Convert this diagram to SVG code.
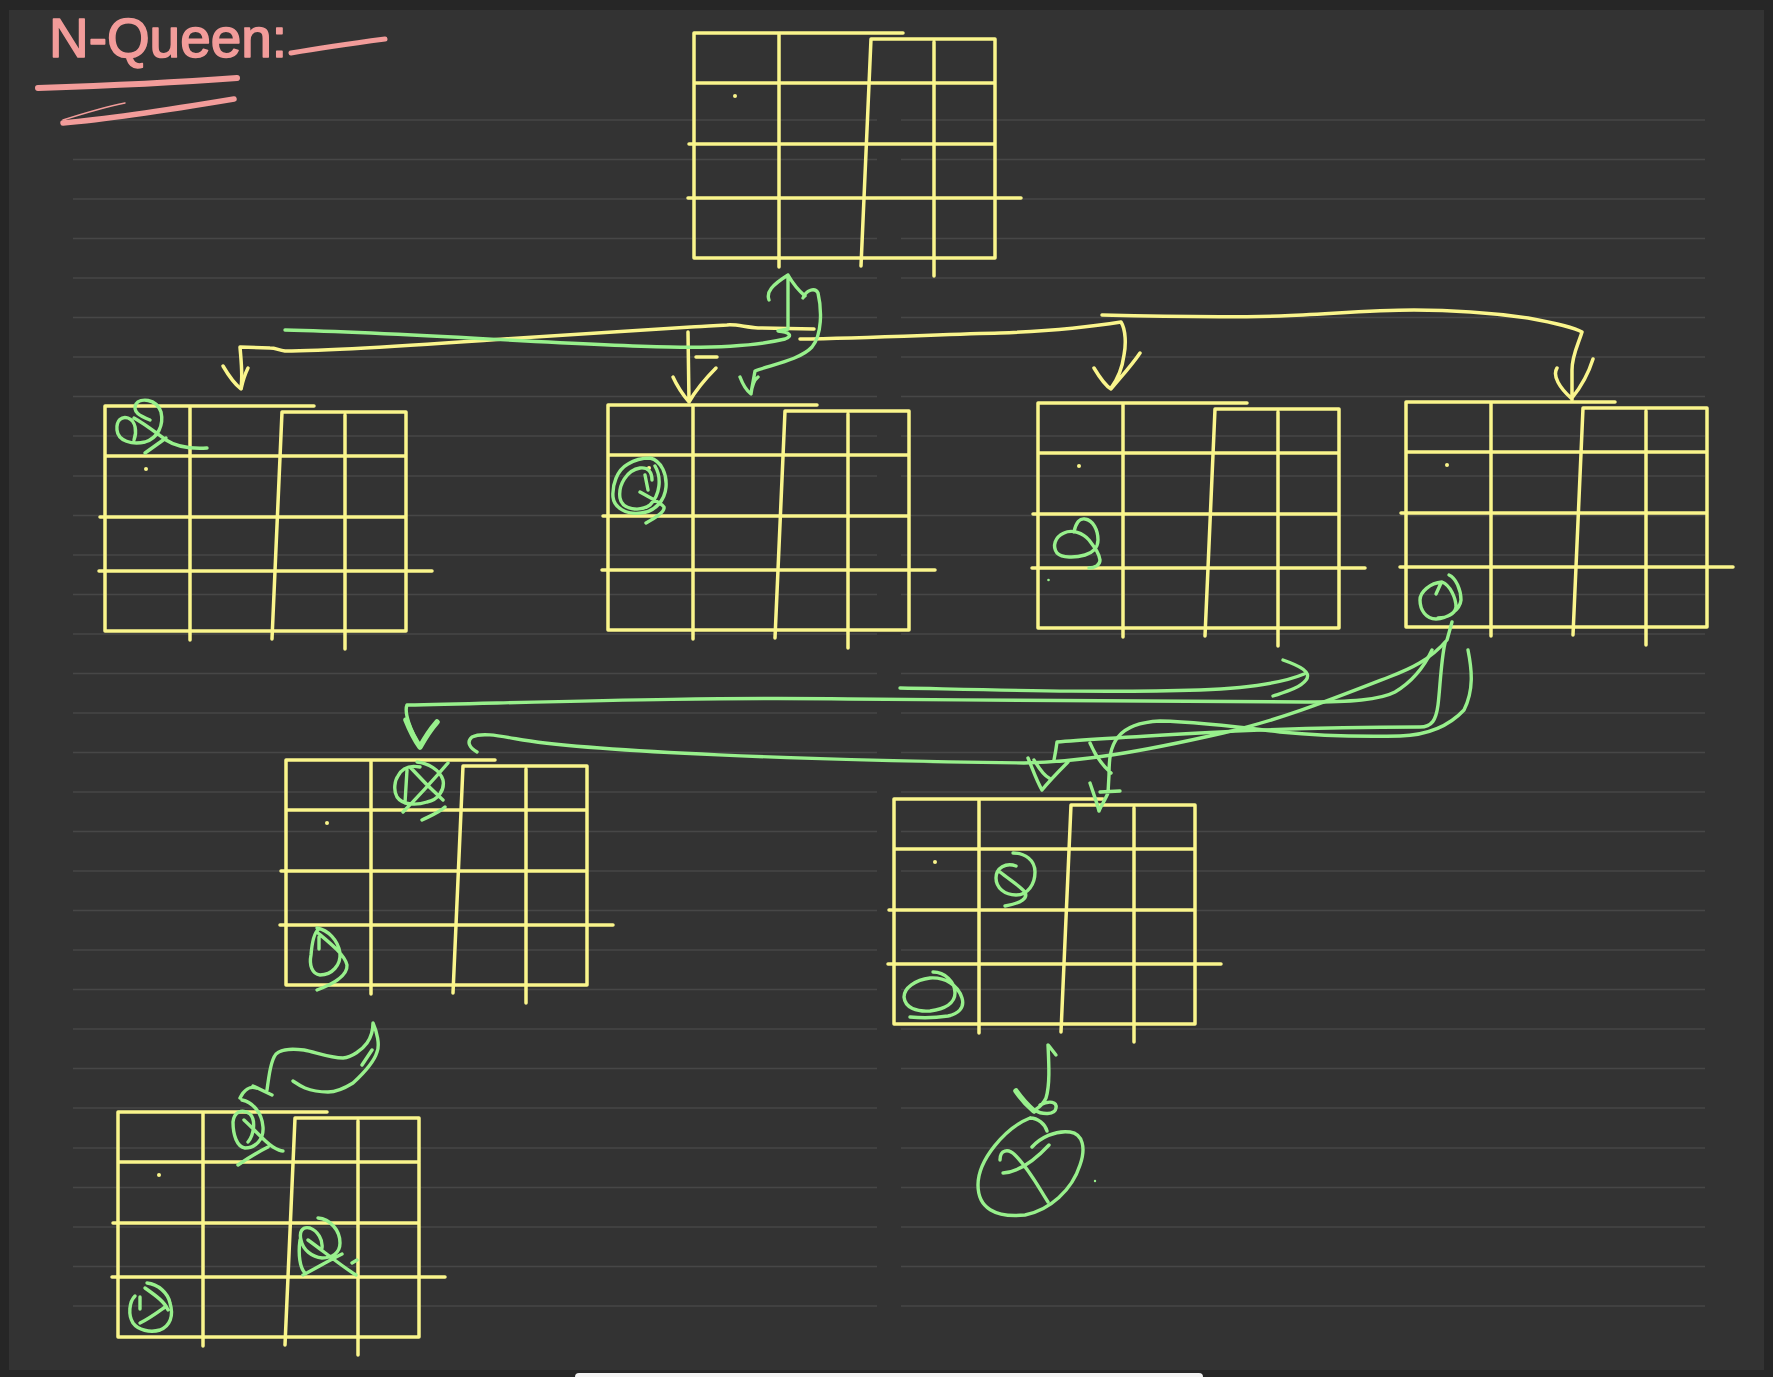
<svg xmlns="http://www.w3.org/2000/svg" xmlns:xlink="http://www.w3.org/1999/xlink" width="1773" height="1377" viewBox="0 0 1773 1377">
<style>
.frame{fill:#262626}
.bg{fill:#333333}
.rule{fill:none;stroke:#474747;stroke-width:1.5}
.grid{fill:none;stroke:#FAF58C;stroke-width:3.5;stroke-linecap:round;stroke-linejoin:round}
.dot{fill:#FAF58C}
.y{fill:none;stroke:#FAF58C;stroke-width:3.5;stroke-linecap:round;stroke-linejoin:round}
.g{fill:none;stroke:#98F08C;stroke-width:3.4;stroke-linecap:round;stroke-linejoin:round}
.gt{fill:none;stroke:#98F08C;stroke-width:5.5;stroke-linecap:round;stroke-linejoin:round}
.p{fill:none;stroke:#F29C9A;stroke-linecap:round;stroke-linejoin:round}
.title{fill:#F29C9A;stroke:#F29C9A;stroke-width:1.6;stroke-linejoin:round;font-family:"Liberation Sans","DejaVu Sans",sans-serif;font-size:56px}
</style>
<defs>
<g id="grid">
<path class="grid" d="M0,0 H209 M177,6 H301 V225 M0,0 V225 H301 M85,2 V234 M177,6 L167,233 M240,9 V243 M0,50 H301 M-5,111 H301 M-6,165 H327"/>
<circle class="dot" cx="41" cy="63" r="2"/>
</g>
</defs>

<rect class="frame" x="0" y="0" width="1773" height="1377"/>
<rect class="bg" x="9" y="10" width="1755" height="1360"/>
<rect x="575" y="1373" width="628" height="10" rx="4" fill="#f2f2f2"/>

<g id="rules">
<path class="rule" d="M73,120 H877 M901,120 H1705 M73,159.5 H877 M901,159.5 H1705 M73,199 H877 M901,199 H1705 M73,238.5 H877 M901,238.5 H1705 M73,278 H877 M901,278 H1705 M73,317.5 H877 M901,317.5 H1705 M73,357 H877 M901,357 H1705 M73,396.5 H877 M901,396.5 H1705 M73,436 H877 M901,436 H1705 M73,476 H877 M901,476 H1705 M73,515.5 H877 M901,515.5 H1705 M73,555 H877 M901,555 H1705 M73,594.5 H877 M901,594.5 H1705 M73,634 H877 M901,634 H1705 M73,673.5 H877 M901,673.5 H1705 M73,713 H877 M901,713 H1705 M73,752.5 H877 M901,752.5 H1705 M73,792 H877 M901,792 H1705 M73,831.5 H877 M901,831.5 H1705 M73,871 H877 M901,871 H1705 M73,910.5 H877 M901,910.5 H1705 M73,950 H877 M901,950 H1705 M73,989.5 H877 M901,989.5 H1705 M73,1029 H877 M901,1029 H1705 M73,1068.5 H877 M901,1068.5 H1705 M73,1108 H877 M901,1108 H1705 M73,1148 H877 M901,1148 H1705 M73,1187.5 H877 M901,1187.5 H1705 M73,1227 H877 M901,1227 H1705 M73,1266.5 H877 M901,1266.5 H1705 M73,1306 H877 M901,1306 H1705"/>
</g>

<g id="title">
<text class="title" x="49" y="57" textLength="238" lengthAdjust="spacingAndGlyphs">N-Queen:</text>
<path class="p" stroke-width="5" d="M291,53 C320,48 355,43 385,39"/>
<path class="p" stroke-width="6" d="M38,88 C100,86 170,83 237,78"/>
<path class="p" stroke-width="5.5" d="M63,123 C120,118 180,108 234,99"/>
<path class="p" stroke-width="1.5" d="M63,120 C85,113 105,107 125,103"/>
</g>

<g id="board-0">
<use xlink:href="#grid" href="#grid" transform="translate(694,33)"/>
</g>

<g id="board-1">
<use xlink:href="#grid" href="#grid" transform="translate(105,406)"/>
<path class="g" d="M150,420 C140,416 132,412 136,404 C140,398 156,398 161,412 C164,425 158,438 145,442 C132,445 118,441 117,430 C116,420 122,416 128,418 C136,421 137,432 134,440 M134,418 C145,424 155,432 166,440 C175,446 190,449 207,448 M145,453 L166,438"/>
</g>

<g id="board-2">
<use xlink:href="#grid" href="#grid" transform="translate(608,405)"/>
<path class="g" d="M650,458 C662,461 667,475 666,487 C665,500 655,512 641,513 C627,515 614,508 613,497 C612,485 617,470 628,464 C636,459 645,458 650,458 M655,466 C662,478 660,495 650,505 C640,512 622,510 620,498 C618,485 627,470 640,468 C648,467 652,472 652,480 M640,492 C650,498 662,503 664,507 C665,512 655,518 646,523 M645,475 L648,490"/>
</g>

<g id="board-3">
<use xlink:href="#grid" href="#grid" transform="translate(1038,403)"/>
<path class="g" d="M1074,532 C1076,522 1080,518 1085,519 C1093,520 1098,530 1098,540 C1098,548 1092,553 1085,555 C1075,558 1062,558 1057,553 C1052,546 1055,537 1064,533 C1072,529 1083,533 1089,540 C1095,548 1099,553 1100,560 C1100,565 1095,568 1089,568"/>
<circle cx="1048.5" cy="580" r="1.3" fill="#98F08C"/>
</g>

<g id="board-4">
<use xlink:href="#grid" href="#grid" transform="translate(1406,402)"/>
<path class="g" d="M1449,575 C1456,578 1461,590 1461,600 C1460,610 1447,619 1436,619 C1426,619 1420,610 1420,600 C1420,592 1430,583 1442,582 C1450,585 1456,598 1456,607 C1455,614 1447,618 1438,618 M1436,594 L1441,583"/>
</g>

<g id="board-5">
<use xlink:href="#grid" href="#grid" transform="translate(286,760)"/>
<path class="g" d="M417,762 C428,763 440,770 443,780 C445,790 438,800 427,802 C418,805 403,806 397,797 C393,790 395,780 398,776 C402,768 410,765 420,767 M410,767 C420,778 432,790 443,800 M403,812 C418,797 435,778 448,763 M422,820 C430,816 440,812 445,807 M407,770 L405,803"/>
<path class="g" d="M317,928 C328,930 338,940 340,953 C341,965 332,975 320,975 C312,974 309,965 311,955 C312,943 314,933 318,930 M318,933 C330,943 345,955 347,965 C348,977 330,985 317,990 M319,937 L319,949"/>
</g>

<g id="board-6">
<use xlink:href="#grid" href="#grid" transform="translate(894,799)"/>
<path class="g" d="M1013,853 C1025,853 1035,860 1035,872 C1035,884 1028,895 1016,895 C1005,895 996,888 996,878 C996,868 1006,862 1016,866 M1000,872 C1010,880 1020,886 1025,892 C1028,898 1022,903 1005,906"/>
<path class="g" d="M933,972 C945,972 955,982 955,993 C955,1003 945,1009 930,1011 C917,1012 905,1008 904,997 C904,988 915,980 930,978 C945,977 958,985 962,998 C965,1008 958,1014 948,1016 C935,1018 920,1018 910,1017"/>
</g>

<g id="board-7">
<use xlink:href="#grid" href="#grid" transform="translate(118,1112)"/>
<path class="g" d="M242,1100 C252,1102 262,1112 263,1127 C264,1140 255,1148 245,1148 C237,1147 233,1135 233,1122 C234,1112 242,1108 250,1114 C256,1120 254,1135 248,1142 M244,1120 C255,1130 265,1142 273,1147 C278,1150 282,1151 283,1151 M238,1165 C248,1158 258,1152 268,1147 M240,1098 C244,1090 250,1086 256,1088"/>
<path class="g" d="M318,1218 C330,1219 340,1230 340,1243 C340,1253 332,1258 322,1258 C312,1257 303,1250 301,1240 C299,1232 302,1226 310,1228 C318,1231 323,1240 322,1248 M300,1240 C298,1255 300,1268 305,1273 M308,1240 C322,1250 340,1265 356,1275 M303,1275 C318,1267 330,1260 342,1254 M352,1263 L357,1260"/>
<path class="g" d="M147,1283 C158,1284 168,1293 170,1303 C174,1316 170,1326 160,1330 C150,1333 138,1330 133,1323 C128,1315 129,1302 135,1296 M145,1288 C155,1295 165,1302 168,1310 M140,1323 C150,1318 158,1312 165,1307 M140,1297 L140,1309"/>
</g>

<g id="result">
<path class="g" d="M1030,1118 C1005,1128 978,1160 978,1185 C978,1208 995,1218 1025,1215 C1050,1210 1072,1190 1080,1165 C1086,1148 1083,1134 1070,1132 C1055,1130 1040,1138 1032,1147 M1030,1118 C1038,1118 1045,1124 1047,1131"/>
<path class="g" d="M1000,1160 C1000,1150 1008,1148 1015,1155 C1030,1170 1040,1190 1048,1202 M1003,1173 C1020,1172 1035,1160 1049,1145"/>
<circle cx="1095" cy="1181" r="1.2" fill="#98F08C"/>
</g>

<g id="connectors">
<path class="y" d="M814,329 L758,328 C745,327 735,324 727,325 C712,326 700,327 691,327 C620,331 560,335 504,339 C420,345 330,351 285,351 C278,350 276,348 270,348 L240,347 C241,360 243,375 241,388"/>
<path class="y" d="M223,366 C230,378 236,385 241,389 C243,380 245,374 248,368"/>
<path class="y" d="M688,332 L689,402 M673,377 C678,388 684,396 689,402 C696,390 706,378 716,368 M696,357 L717,357"/>
<path class="y" d="M800,339 C870,338 950,334 1000,333 C1050,331 1090,327 1121,322 C1126,330 1126,345 1124,355 C1122,370 1117,380 1111,388 M1094,368 C1100,378 1106,386 1111,389 C1120,378 1132,365 1140,353"/>
<path class="y" d="M1102,315 C1180,317 1240,317 1280,316 C1330,314 1370,310 1414,310 C1460,310 1500,314 1528,318 C1555,323 1575,328 1582,332 C1578,345 1572,355 1572,370 L1572,400 M1557,368 C1552,376 1560,388 1571,398 M1593,359 C1588,375 1580,388 1572,398"/>

<path class="g" d="M285,330 C420,333 560,345 670,347 C720,348 760,345 785,339 C793,336 790,332 778,331 L788,329 L788,275 M769,300 C766,292 772,285 788,275 C792,282 798,290 805,296"/>
<path class="g" d="M803,298 C806,290 815,287 818,293 C822,310 822,335 812,347 C800,360 770,365 755,371 L751,393 M740,377 C743,385 747,391 751,394 C752,386 754,380 758,377"/>

<path class="g" d="M900,688 C1000,690 1100,693 1200,690 C1250,688 1285,682 1304,674 M1283,660 C1300,666 1312,672 1306,680 C1300,688 1285,692 1273,696"/>
<path class="g" d="M1432,650 C1425,665 1415,680 1395,692 C1380,700 1350,702 1306,702 C1150,702 1000,700 848,699 C700,697 550,702 407,705 C404,712 410,730 420,747 M430,730 L437,722"/>
<path class="gt" d="M406,720 C410,730 415,740 420,747 C425,738 430,730 437,722"/>
<path class="g" d="M477,752 C470,748 466,742 472,737 C482,732 500,736 523,740 C600,752 800,760 1024,763 C1080,762 1140,752 1223,733 C1280,720 1330,700 1389,677 C1410,669 1430,660 1447,640 L1452,622"/>
<path class="g" d="M1445,643 C1441,660 1440,690 1438,705 C1436,720 1432,727 1420,727 C1350,727 1285,728 1200,733 C1130,737 1080,740 1057,742 C1056,750 1055,755 1054,760 M1028,758 C1033,770 1037,782 1042,790 C1050,780 1060,770 1068,762 M1034,760 C1040,770 1045,776 1049,778"/>
<path class="g" d="M1468,650 C1472,670 1474,690 1464,710 C1450,725 1430,735 1400,736 C1350,737 1310,735 1280,732 C1240,727 1200,722 1160,721 C1140,722 1125,728 1118,737 C1110,747 1109,760 1109,775 L1108,793 C1105,800 1101,806 1099,811 M1090,783 C1094,795 1097,803 1099,811 M1100,792 L1120,791 M1090,743 C1095,755 1102,765 1111,773"/>

<path class="g" d="M267,1090 C269,1075 271,1060 276,1054 C283,1048 295,1049 304,1050 C315,1052 330,1058 343,1058 C352,1057 362,1050 367,1043 C372,1036 373,1030 373,1023 C377,1032 380,1045 377,1052 C374,1062 365,1072 353,1083 C345,1088 335,1092 328,1092 C318,1092 310,1090 305,1088 C300,1086 296,1083 293,1081 M362,1065 L372,1050 M253,1086 L272,1095"/>

<path class="g" d="M1056,1055 C1052,1050 1049,1046 1048,1045 C1049,1065 1050,1085 1046,1098 C1043,1105 1038,1108 1035,1110 C1042,1115 1055,1115 1056,1108 C1057,1102 1050,1100 1040,1105"/>
<path class="gt" d="M1016,1091 C1021,1098 1027,1105 1034,1111"/>
</g>
</svg>
